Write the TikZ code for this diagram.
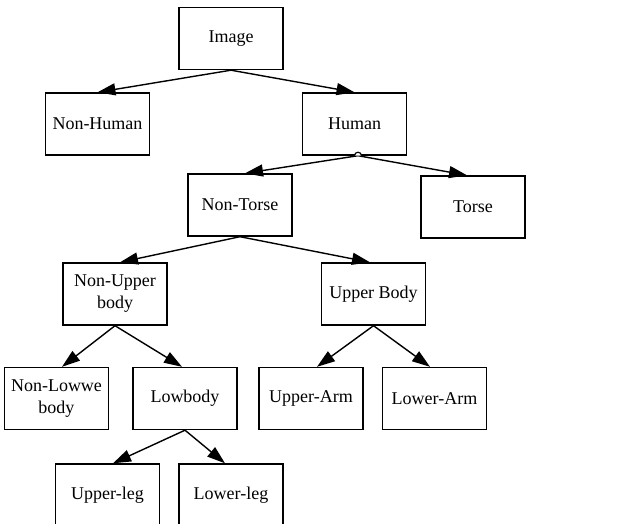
\documentclass[tikz,border=0pt]{standalone}
\usepackage{fontspec}
\setmainfont{Liberation Serif}
\usetikzlibrary{arrows.meta}
\begin{document}
\begin{tikzpicture}[x=1pt,y=-1pt,
  box/.style={draw,line width=1.4pt,minimum width=104pt,minimum height=62pt,inner sep=2pt,align=center,font=\fontsize{18}{22}\selectfont},
  edge/.style={line width=1.4pt,-{Triangle[length=18pt,width=12pt]}}]
\useasboundingbox (0,0) rectangle (627,524);
\clip (0,0) rectangle (627,524);
\node[box] (img) at (231,38.5) {Image};
\node[box] (nh) at (97.5,124) {Non-Human};
\node[box] (hum) at (354.5,124) {Human};
\node[box] (nt) at (240,205) {Non-Torse};
\node[box] (tor) at (473,207) {Torse};
\node[box] (nub) at (115,294) {Non-Upper\\body};
\node[box] (ub) at (373.5,294) {Upper Body};
\node[box] (nlb) at (56.5,398.5) {Non-Lowwe\\body};
\node[box] (lb) at (185,398.5) {Lowbody};
\node[box] (ua) at (311,398.5) {Upper-Arm};
\node[box] (la) at (434.5,398.5) {Lower-Arm};
\node[box] (ul) at (107.5,495) {Upper-leg};
\node[box] (ll) at (231,495) {Lower-leg};
\draw[edge] (img.south) -- (nh.north);
\draw[edge] (img.south) -- (hum.north);
\draw[edge] ([xshift=3.5pt]hum.south) -- ([xshift=5pt]nt.north);
\draw[edge] ([xshift=3.5pt]hum.south) -- ([xshift=-6pt]tor.north);
\draw[line width=1.2pt,fill=white] ([xshift=3.5pt]hum.south) +(-3.5,0) arc[start angle=180,end angle=360,radius=3.5];
\draw[edge] (nt.south) -- ([xshift=5pt]nub.north);
\draw[edge] (nt.south) -- ([xshift=-3.5pt]ub.north);
\draw[edge] (nub.south) -- ([xshift=5.5pt]nlb.north);
\draw[edge] (nub.south) -- ([xshift=-3pt]lb.north);
\draw[edge] (ub.south) -- ([xshift=6pt]ua.north);
\draw[edge] (ub.south) -- ([xshift=-4.5pt]la.north);
\draw[edge] (lb.south) -- ([xshift=5.5pt]ul.north);
\draw[edge] (lb.south) -- ([xshift=-6pt]ll.north);
\end{tikzpicture}
\end{document}
